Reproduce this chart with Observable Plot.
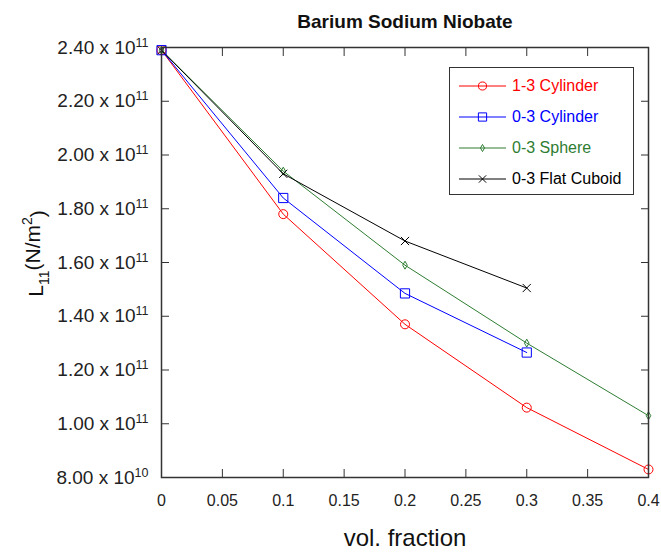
<!DOCTYPE html>
<html><head><meta charset="utf-8">
<script src="https://cdn.jsdelivr.net/npm/d3@7"></script>
<script src="https://cdn.jsdelivr.net/npm/@observablehq/plot@0.6"></script>
<style>
body{margin:0;background:#fff;font-family:"Liberation Sans",Arial,sans-serif;}
#chart{position:relative;width:661px;height:556px;}
#legend{position:absolute;left:449px;top:67px;width:185px;height:128px;border:1.5px solid #333;background:#fff;box-sizing:border-box;}
.lrow{position:absolute;left:0;height:20px;display:flex;align-items:center;font-size:16px;}
.lrow svg{margin-left:9px;}
.lrow span{margin-left:5px;white-space:nowrap;}
</style></head><body><div id="chart"></div>
<script>
const title = "Barium Sodium Niobate";
const xLabel = "vol. fraction";
const yLabel = "L11(N/m2)";
const seriesNames = ["1-3 Cylinder", "0-3 Cylinder", "0-3 Sphere", "0-3 Flat Cuboid"];
const seriesColors = ["#ff0000", "#0000ff", "#2e7d32", "#000000"];
const seriesSymbols = ["circle", "square", "diamond", "times"];
const seriesR = [4.5, 5.2, 2.4, 3.8];
const volFraction = [0, 0.1, 0.2, 0.3, 0.4];
const cylinder13 = [2.39e11, 1.78e11, 1.37e11, 1.06e11, 0.83e11];
const cylinder03 = [2.39e11, 1.84e11, 1.485e11, 1.265e11];
const sphere03 = [2.39e11, 1.94e11, 1.59e11, 1.30e11, 1.03e11];
const cuboid03 = [2.39e11, 1.93e11, 1.68e11, 1.505e11];
const xTicks = [0, 0.05, 0.1, 0.15, 0.2, 0.25, 0.3, 0.35, 0.4];
const yTicks = [0.8e11, 1.0e11, 1.2e11, 1.4e11, 1.6e11, 1.8e11, 2.0e11, 2.2e11, 2.4e11];

const seriesValues = [cylinder13, cylinder03, sphere03, cuboid03];
const seriesRows = seriesValues.map((vals, s) => vals.map((v, i) => ({x: volFraction[i], y: v, series: seriesNames[s]})));

function sciFmt(v) {
  const e = Math.floor(Math.log10(v) + 1e-9);
  const m = v / Math.pow(10, e);
  return m.toFixed(2) + " x 10^" + e;
}

const marks = [];
seriesRows.forEach((rows, s) => {
  marks.push(Plot.line(rows, {x: "x", y: "y", stroke: seriesColors[s], strokeWidth: 1}));
});
seriesRows.forEach((rows, s) => {
  marks.push(Plot.dot(rows, {x: "x", y: "y", symbol: seriesSymbols[s], r: seriesR[s], stroke: seriesColors[s], fill: "none", strokeWidth: 1}));
});

const plot = Plot.plot({
  width: 661, height: 556,
  marginLeft: 161, marginRight: 13, marginTop: 47, marginBottom: 79,
  style: {fontFamily: '"Liberation Sans", Arial, sans-serif', color: "#222", background: "#fff"},
  x: {domain: [0, 0.4]},
  y: {domain: [0.8e11, 2.4e11]},
  marks: [
    ...marks,
    Plot.frame({stroke: "#333", strokeWidth: 1.5}),
    Plot.axisX(xTicks, {anchor: "bottom", tickSize: -8, tickPadding: 25, fontSize: 16, label: null, tickFormat: d => String(d), stroke: "#333"}),
    Plot.axisX(xTicks, {anchor: "top", tickSize: -8, label: null, tickFormat: () => "", stroke: "#333"}),
    Plot.axisY(yTicks, {anchor: "left", tickSize: -8, tickPadding: 21, fontSize: 19, label: null, tickFormat: sciFmt, stroke: "#333"}),
    Plot.axisY(yTicks, {anchor: "right", tickSize: -8, label: null, tickFormat: () => "", stroke: "#333"}),
    Plot.text([title], {frameAnchor: "top", lineAnchor: "middle", textAnchor: "middle", dy: -26, fontWeight: "bold", fontSize: 19, fill: "#111"}),
    Plot.text([xLabel], {frameAnchor: "bottom", lineAnchor: "middle", textAnchor: "middle", dy: 61, fontSize: 24, fill: "#111"}),
    Plot.text([yLabel], {frameAnchor: "left", lineAnchor: "middle", textAnchor: "middle", dx: -125, dy: -9, rotate: -90, fontSize: 21, fill: "#111"})
  ]
});
document.getElementById("chart").appendChild(plot);

// superscripts / subscripts as tspans
plot.querySelectorAll("text").forEach(t => {
  const txt = t.textContent;
  const m = txt.match(/^(.*) x 10\^(\d+)$/);
  if (m) {
    t.textContent = "";
    const a = document.createElementNS("http://www.w3.org/2000/svg", "tspan");
    a.textContent = m[1] + " x 10";
    const b = document.createElementNS("http://www.w3.org/2000/svg", "tspan");
    b.textContent = m[2];
    b.setAttribute("font-size", "12.5");
    b.setAttribute("dy", "-0.55em");
    t.appendChild(a); t.appendChild(b);
  } else if (txt === yLabel) {
    t.textContent = "";
    const parts = [["L", null, null], ["11", "0.4em", "14"], ["(N/m", "-0.4em", null], ["2", "-0.6em", "14"], [")", "0.6em", null]];
    parts.forEach(([s, dy, fs]) => {
      const sp = document.createElementNS("http://www.w3.org/2000/svg", "tspan");
      sp.textContent = s;
      if (dy) sp.setAttribute("dy", dy);
      if (fs) sp.setAttribute("font-size", fs);
      t.appendChild(sp);
    });
  }
});

// legend
const legend = document.createElement("div");
legend.id = "legend";
seriesNames.forEach((name, i) => {
  const row = document.createElement("div");
  row.className = "lrow";
  row.style.top = (8 + i * 31) + "px";
  const svg = d3.create("svg").attr("width", 48).attr("height", 20);
  svg.append("line").attr("x1", 0).attr("x2", 47).attr("y1", 10).attr("y2", 10).attr("stroke", seriesColors[i]).attr("stroke-width", 1);
  const symMap = {circle: d3.symbolCircle, square: d3.symbolSquare, diamond: d3.symbolDiamond, times: d3.symbolTimes};
  svg.append("path").attr("d", d3.symbol(symMap[seriesSymbols[i]], Math.PI * seriesR[i] * seriesR[i] * 0.8)())
    .attr("transform", "translate(23.5,10)").attr("fill", "none").attr("stroke", seriesColors[i]).attr("stroke-width", 1);
  row.appendChild(svg.node());
  const sp = document.createElement("span");
  sp.textContent = name;
  sp.style.color = seriesColors[i];
  row.appendChild(sp);
  legend.appendChild(row);
});
document.getElementById("chart").appendChild(legend);
</script>
</body></html>
